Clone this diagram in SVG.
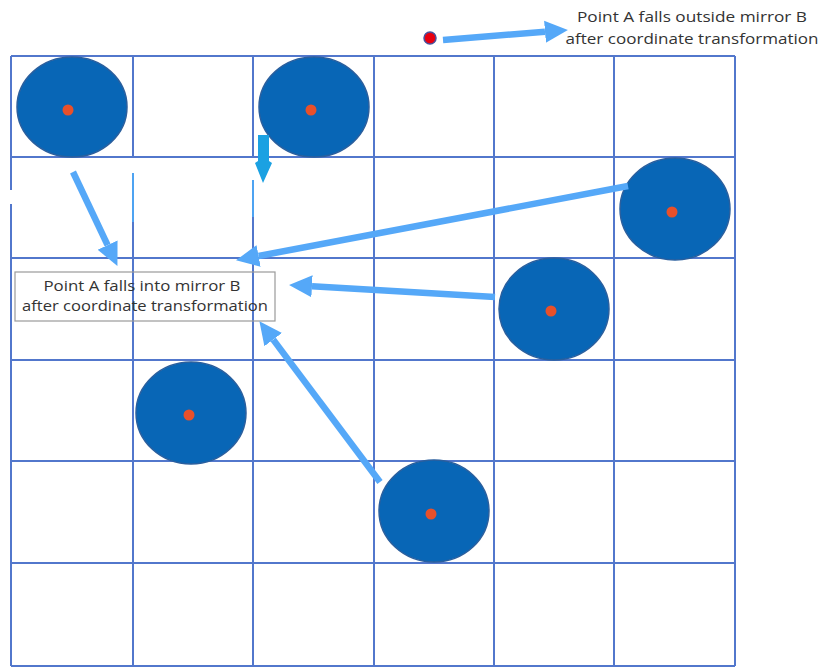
<svg xmlns="http://www.w3.org/2000/svg" width="824" height="669" viewBox="0 0 824 669">
<defs>
<style>
.grid{stroke:#5277cc;stroke-width:2;fill:none}
.faint{stroke:#4da3f2;stroke-width:2;fill:none}
.mirror{fill:#0866b6;stroke:#2a5f9e;stroke-width:1.5}
.dot{fill:#e8502a}
.arr{stroke:#55a8f8;stroke-width:6.5;fill:none;marker-end:url(#head)}
.txt{font-family:"Open Sans","Liberation Sans",sans-serif;font-size:15px;fill:#333;text-anchor:middle}
</style>
<marker id="head" markerUnits="userSpaceOnUse" markerWidth="24" markerHeight="24" refX="0" refY="12" orient="auto" viewBox="0 0 24 24">
<path d="M0,1 L23,12 L0,23 z" fill="#55a8f8"/>
</marker>
</defs>
<rect width="824" height="669" fill="#fff"/>
<g id="grid">
<path class="grid" d="M11,56 H735 M11,157 H735 M11,258 H735 M11,360 H735 M11,461 H735 M11,563 H735 M11,666 H735"/>
<path class="grid" d="M11,56 V190 M11,204 V666 M133,56 V158 M133,222 V666 M253,56 V158 M253,217 V666 M374,56 V666 M494,56 V666 M614,56 V666 M735,56 V666"/>
<path class="faint" d="M133,173 V222 M253,180 V217"/>
</g>
<g id="mirror1"><ellipse class="mirror" cx="72" cy="107" rx="55" ry="50"/><circle class="dot" cx="68" cy="110" r="5.5"/></g>
<g id="mirror2"><ellipse class="mirror" cx="314" cy="107" rx="55" ry="50"/><circle class="dot" cx="311" cy="110" r="5.5"/></g>
<g id="mirror3"><ellipse class="mirror" cx="675" cy="209" rx="55" ry="51"/><circle class="dot" cx="672" cy="212" r="5.5"/></g>
<g id="mirror4"><ellipse class="mirror" cx="554" cy="309" rx="55" ry="51"/><circle class="dot" cx="551" cy="311" r="5.5"/></g>
<g id="mirror5"><ellipse class="mirror" cx="191" cy="413" rx="55" ry="51"/><circle class="dot" cx="189" cy="415" r="5.5"/></g>
<g id="mirror6"><ellipse class="mirror" cx="434" cy="511" rx="55" ry="51"/><circle class="dot" cx="431" cy="514" r="5.5"/></g>
<g id="pointA"><circle cx="430" cy="38" r="6" fill="#e80010" stroke="#4a4f9a" stroke-width="1.5"/></g>
<g id="label-inside">
<rect x="15" y="272" width="260" height="49" fill="none" stroke="#9a9a9a" stroke-width="1.2"/>
<text class="txt" x="142" y="291" textLength="197" lengthAdjust="spacingAndGlyphs">Point A falls into mirror B</text>
<text class="txt" x="145" y="311" textLength="246" lengthAdjust="spacingAndGlyphs">after coordinate transformation</text>
</g>
<g id="label-outside">
<text class="txt" x="692" y="22" textLength="230" lengthAdjust="spacingAndGlyphs">Point A falls outside mirror B</text>
<text class="txt" x="692" y="44" textLength="253" lengthAdjust="spacingAndGlyphs">after coordinate transformation</text>
</g>
<g id="connectors">
<line class="arr" x1="73" y1="172" x2="107.6" y2="245.1"/>
<line class="arr" x1="628" y1="186" x2="258.6" y2="256"/>
<line class="arr" x1="495" y1="297" x2="312" y2="286.3"/>
<line class="arr" x1="380" y1="482" x2="273.2" y2="339.6"/>
<line class="arr" x1="443" y1="40" x2="545" y2="31.8"/>
<path d="M258,135 H269 V161 L272,163 L263,183 L255,163 L258,161 z" fill="#1ba1e2"/>
</g>
</svg>
